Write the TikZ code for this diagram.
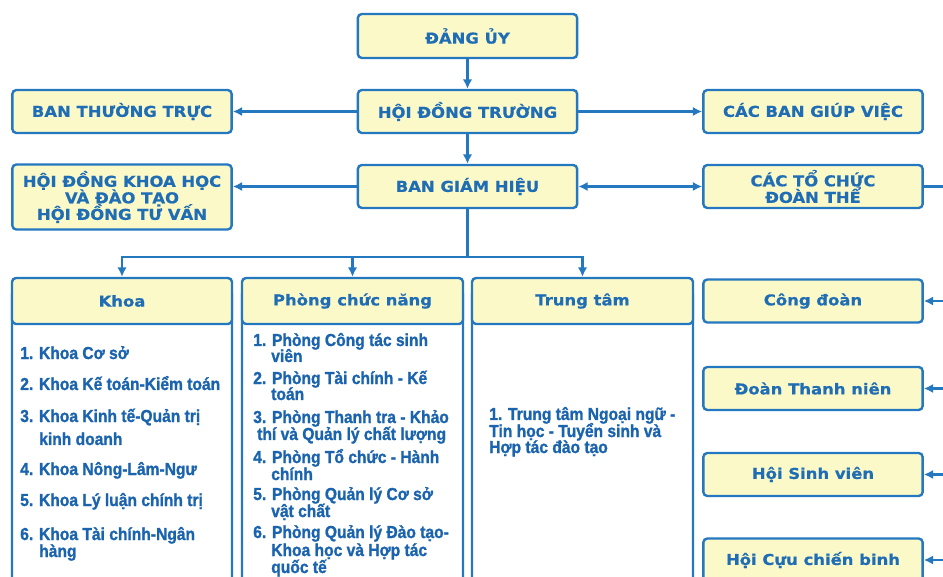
\documentclass[tikz,border=0pt]{standalone}
\usepackage{fontspec}
\usetikzlibrary{arrows.meta}
\newfontfamily\hfont[FakeStretch=1.1,FakeBold=0.6]{DejaVu Sans}
\newfontfamily\lfont[FakeStretch=0.9,FakeBold=1.2]{Liberation Sans}
\newcommand\mytightls{\lineskiplimit=-10pt\relax}
\definecolor{bord}{HTML}{2478C0}
\definecolor{fillc}{HTML}{FCF9C8}
\definecolor{htext}{HTML}{1F6DB5}
\definecolor{ltext}{HTML}{1A63AE}
\tikzset{
  box/.style={draw=bord, line width=1.8pt, fill=fillc, rounded corners=3pt,
    minimum width=164.5pt, minimum height=32.25pt, align=center, inner sep=1pt,
    text=htext, font=\hfont\bfseries\fontsize{11.2}{12.4}\selectfont\mytightls},
  conn/.style={draw=bord, line width=1.9pt},
  arr/.style={conn, -{Latex[length=7pt,width=7pt]}},
  darr/.style={conn, {Latex[length=7pt,width=7pt]}-{Latex[length=7pt,width=7pt]}},
  li/.style={anchor=base west, inner sep=0pt, text=ltext,
    font=\lfont\bfseries\fontsize{13}{13}\selectfont},
  colbody/.style={draw=bord, line width=1.8pt, fill=white, rounded corners=3pt},
}
\begin{document}
\begin{tikzpicture}[x=0.75pt,y=-0.75pt]
\useasboundingbox (0,0) rectangle (943,577);
\clip (0,0) rectangle (943,577);
% top boxes
\node[box, minimum height=33pt] (dang) at (467.5,36) {ĐẢNG ỦY};
\node[box] (hdt) at (467.5,111.5) {HỘI ĐỒNG TRƯỜNG};
\node[box] (bgh) at (467.5,186.5) {BAN GIÁM HIỆU};
\node[box] (btt) at (122,111.5) {BAN THƯỜNG TRỰC};
\node[box, minimum height=48.75pt] (hdkh) at (122,197) {HỘI ĐỒNG KHOA HỌC\\VÀ ĐÀO TẠO\\HỘI ĐỒNG TƯ VẤN};
\node[box] (cbgv) at (813,111.5) {CÁC BAN GIÚP VIỆC};
\node[box] (ctc) at (813,186.5) {CÁC TỔ CHỨC\\ĐOÀN THỂ};
% column bodies
\draw[colbody] (12,290) rectangle (232,640);
\draw[colbody] (242,290) rectangle (463,640);
\draw[colbody] (472,290) rectangle (693,640);
% column headers
\node[box, minimum width=165pt, minimum height=34.5pt] (khoa) at (122,301) {Khoa};
\node[box, minimum width=165.75pt, minimum height=34.5pt] (pcn) at (352.5,301) {Phòng chức năng};
\node[box, minimum width=165.75pt, minimum height=34.5pt] (tt) at (582.5,301) {Trung tâm};
% right boxes
\node[box] (cd) at (813,301) {Công đoàn};
\node[box] (dtn) at (813,388.5) {Đoàn Thanh niên};
\node[box] (hsv) at (813,474.5) {Hội Sinh viên};
\node[box] (hccb) at (813,560) {Hội Cựu chiến binh};
% connectors
\draw[arr] (dang) -- (hdt);
\draw[arr] (hdt) -- (bgh);
\draw[arr] (hdt) -- (btt);
\draw[arr] (hdt) -- (cbgv);
\draw[arr] (bgh.west) -- (bgh.west -| hdkh.east);
\draw[darr] (bgh) -- (ctc);
\coordinate (bus) at (467.5,257);
\coordinate (r0) at (950,186.5);
\draw[conn] (ctc.east) -- (r0);
\draw[conn] (bgh.south) -- (bus);
\draw[arr] (bus) -| (khoa.north);
\draw[arr] (bus) -| (pcn.north);
\draw[arr] (bus) -| (tt.north);
\coordinate (r1) at (950,301);
\coordinate (r2) at (950,388.5);
\coordinate (r3) at (950,474.5);
\coordinate (r4) at (950,560);
\draw[arr] (r1) -- (cd);
\draw[arr] (r2) -- (dtn);
\draw[arr] (r3) -- (hsv);
\draw[arr] (r4) -- (hccb);
% Khoa list
\node[li] (k1) at (20,359) {1. Khoa Cơ sở};
\node[li] (k2) at (20,390) {2. Khoa Kế toán-Kiểm toán};
\node[li] (k3a) at (20,422) {3. Khoa Kinh tế-Quản trị};
\node[li] (k3b) at (39,445) {kinh doanh};
\node[li] (k4) at (20,475) {4. Khoa Nông-Lâm-Ngư};
\node[li] (k5) at (20,506) {5. Khoa Lý luận chính trị};
\node[li] (k6a) at (20,540) {6. Khoa Tài chính-Ngân};
\node[li] (k6b) at (39,557) {hàng};
% Phong list
\node[li] (p1a) at (253,346) {1. Phòng Công tác sinh};
\node[li] (p1b) at (271,362) {viên};
\node[li] (p2a) at (253,384) {2. Phòng Tài chính - Kế};
\node[li] (p2b) at (271,400) {toán};
\node[li] (p3a) at (253,423) {3. Phòng Thanh tra - Khảo};
\node[li] (p3b) at (257,440) {thí và Quản lý chất lượng};
\node[li] (p4a) at (253,463) {4. Phòng Tổ chức - Hành};
\node[li] (p4b) at (271,480) {chính};
\node[li] (p5a) at (253,500) {5. Phòng Quản lý Cơ sở};
\node[li] (p5b) at (271,517) {vật chất};
\node[li] (p6a) at (253,538) {6. Phòng Quản lý Đào tạo-};
\node[li] (p6b) at (271,556) {Khoa học và Hợp tác};
\node[li] (p6c) at (271,573) {quốc tế};
% Trung tam list
\node[li] (t1) at (489,420) {1. Trung tâm Ngoại ngữ -};
\node[li] (t2) at (489,437) {Tin học - Tuyển sinh và};
\node[li] (t3) at (489,453) {Hợp tác đào tạo};
\end{tikzpicture}
\end{document}
